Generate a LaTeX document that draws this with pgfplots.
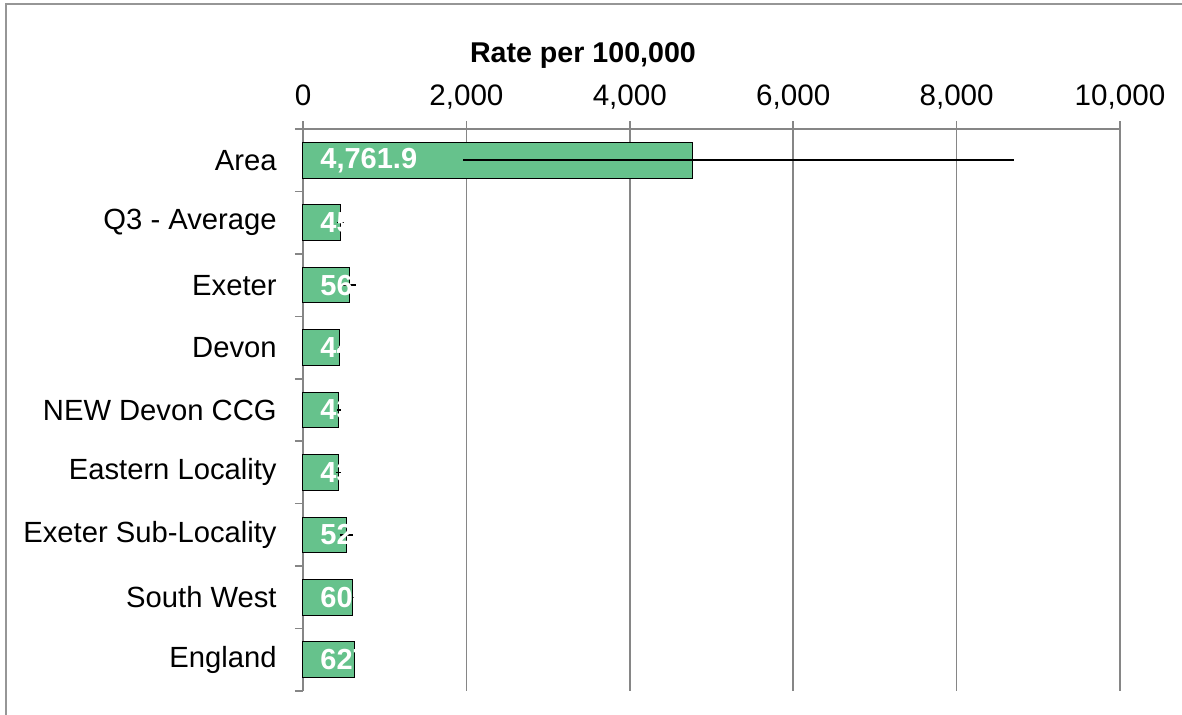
\documentclass[border=0pt]{standalone}
\usepackage{fontspec}
\setmainfont{Liberation Sans}
\usepackage{pgfplots}
\pgfplotsset{compat=1.18}
\definecolor{barg}{RGB}{102,194,140}
\definecolor{axg}{RGB}{134,134,134}
\definecolor{frameg}{RGB}{150,150,150}
\begin{document}
\begin{tikzpicture}[font=\fontsize{14.6}{17.5}\selectfont]
\path[use as bounding box] (-151.5pt,-12pt) rectangle (439.5pt,345.5pt);
\draw[frameg, line width=1pt] (-148.7pt,-20pt) -- (-148.7pt,343.5pt) -- (460pt,343.5pt);
\begin{axis}[
  at={(0pt,0pt)}, anchor=south west,
  scale only axis, width=408.5pt, height=281pt,
  xmin=0, xmax=10000, ymin=-0.5, ymax=8.5,
  clip=false,
  axis x line*=top, axis y line*=left,
  axis line style={axg, line width=0.75pt},
  xtick={0,2000,...,10000},
  xmajorgrids, grid style={axg, line width=0.75pt},
  tick align=outside, major tick length=4pt,
  tick style={axg, line width=0.75pt},
  scaled x ticks=false,
  /pgf/number format/1000 sep={,},
  /pgf/number format/assume math mode=true,
  tick label style={font=\fontsize{14.8}{17.5}\selectfont},
  xticklabel style={anchor=base, inner sep=0pt, yshift=7.8pt},
  ytick={-0.5,0.5,...,8.5}, yticklabels={},
  extra y ticks={0,1,2,3,4,5,6,7,8},
  extra y tick labels={England,South West,Exeter Sub-Locality,Eastern Locality,NEW Devon CCG,Devon,Exeter,Q3 - Average,Area},
  extra y tick style={major tick length=0pt, yticklabel style={anchor=east, inner sep=0pt, xshift=-13pt, font=\fontsize{14.6}{17.5}\selectfont}},
]
\addplot[xbar, bar shift=0pt, bar width=17.8pt, fill=barg, draw=black, line width=0.5pt,
  error bars/.cd, x dir=both, x explicit, error mark=none,
  error bar style={black, line width=0.75pt}]
coordinates {
(4761.9,8) += (3935,0) -= (2805,0)
(458.6,7) +- (40,0)
(567.4,6) +- (80,0)
(447.2,5) +- (20,0)
(436.8,4) +- (25,0)
(434.5,3) +- (30,0)
(527.9,2) +- (80,0)
(606.3,1) +- (10,0)
(627.5,0) +- (5,0)
};
\addplot[draw=none, mark=none, nodes near coords, point meta=explicit symbolic,
  nodes near coords style={anchor=west, text=white, font=\fontsize{14.5}{17.5}\selectfont\bfseries, inner sep=0pt, xshift=8.5pt}]
coordinates {
(0,8) [{4,761.9}]
(0,7) [458.6]
(0,6) [567.4]
(0,5) [447.2]
(0,4) [436.8]
(0,3) [434.5]
(0,2) [527.9]
(0,1) [606.3]
(0,0) [627.5]
};
\node[font=\fontsize{14.3}{17.5}\selectfont\bfseries, anchor=base] at (rel axis cs:0.3427,1.119) {Rate per 100,000};
\end{axis}
\end{tikzpicture}
\end{document}
